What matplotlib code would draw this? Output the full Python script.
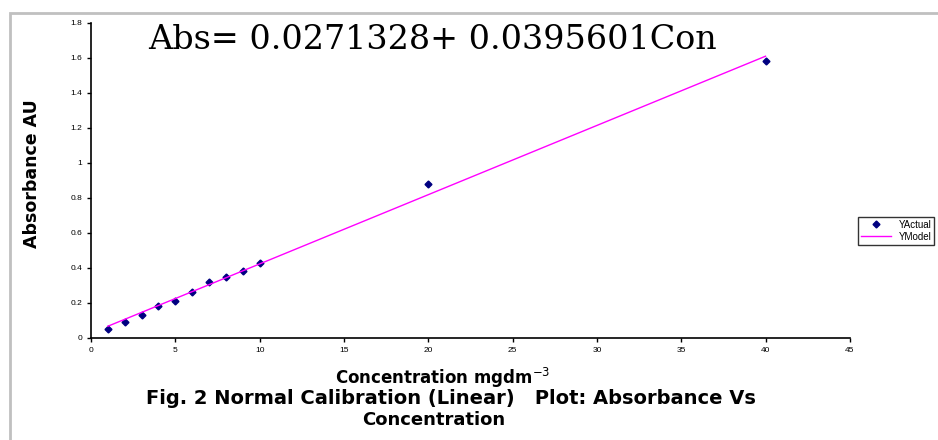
import matplotlib
matplotlib.use('Agg')
import matplotlib.pyplot as plt
from matplotlib.patches import Rectangle

# calibration data
conc = [1, 2, 3, 4, 5, 6, 7, 8, 9, 10, 20, 40]
absorbance = [0.05, 0.09, 0.13, 0.18, 0.21, 0.26, 0.32, 0.35, 0.38, 0.43,
              0.88, 1.58]
intercept = 0.0271328
slope = 0.0395601
x_ticks = [0, 5, 10, 15, 20, 25, 30, 35, 40, 45]
y_ticks = [0, 0.2, 0.4, 0.6, 0.8, 1, 1.2, 1.4, 1.6, 1.8]
y_labels = ['0', '0.2', '0.4', '0.6', '0.8', '1', '1.2', '1.4', '1.6', '1.8']

plt.rcParams['font.family'] = ['Liberation Sans', 'DejaVu Sans']

fig = plt.figure(figsize=(9.38, 4.4), dpi=100)
fig.patches.append(Rectangle((10 / 938, -0.1), 1.2, 0.1 + 427 / 440,
                             transform=fig.transFigure, fill=False,
                             edgecolor='#c0c0c0', linewidth=2))

ax = fig.add_axes([0.097, 0.232, 0.809, 0.716])
model = [intercept + slope * c for c in conc]
ax.plot(conc, absorbance, linestyle='none', marker='D', markersize=3.5,
        color='#000080', label='YActual')
ax.plot(conc, model, color='#ff00ff', linewidth=1, label='YModel')

ax.set_xlim(0, 45)
ax.set_ylim(0, 1.8)
ax.set_xticks(x_ticks)
ax.set_yticks(y_ticks)
ax.set_yticklabels(y_labels)
ax.tick_params(labelsize=6, length=3, width=1, direction='out')
for s in ['top', 'right']:
    ax.spines[s].set_visible(False)
ax.spines['left'].set_linewidth(1.2)
ax.spines['bottom'].set_linewidth(1.2)

ax.set_ylabel('Absorbance AU', fontsize=12.5, fontweight='bold',
              family='DejaVu Sans')
ax.yaxis.set_label_coords(-0.066, 0.52)

cap = dict(ha='center', va='center', fontweight='bold', family='DejaVu Sans')
fig.text(443 / 938, 1 - 378 / 440, 'Concentration mgdm$^{-3}$',
         fontsize=12, **cap)
fig.text(451 / 938, 1 - 398 / 440,
         'Fig. 2 Normal Calibration (Linear)   Plot: Absorbance Vs',
         fontsize=14, **cap)
fig.text(434 / 938, 1 - 420 / 440, 'Concentration', fontsize=13, **cap)

ax.text(148 / 938, 1 - 40 / 440,
        'Abs= %.7f+ %.7fCon' % (intercept, slope),
        transform=fig.transFigure, ha='left', va='center',
        fontsize=24, family='DejaVu Serif')

leg = ax.legend(loc='center left', bbox_to_anchor=(1.005, 0.34),
                fontsize=7, frameon=True, fancybox=False,
                edgecolor='black', handlelength=3, borderpad=0.3,
                labelspacing=0.2)
leg.get_frame().set_linewidth(1)

fig.savefig('out.png', dpi=100)
